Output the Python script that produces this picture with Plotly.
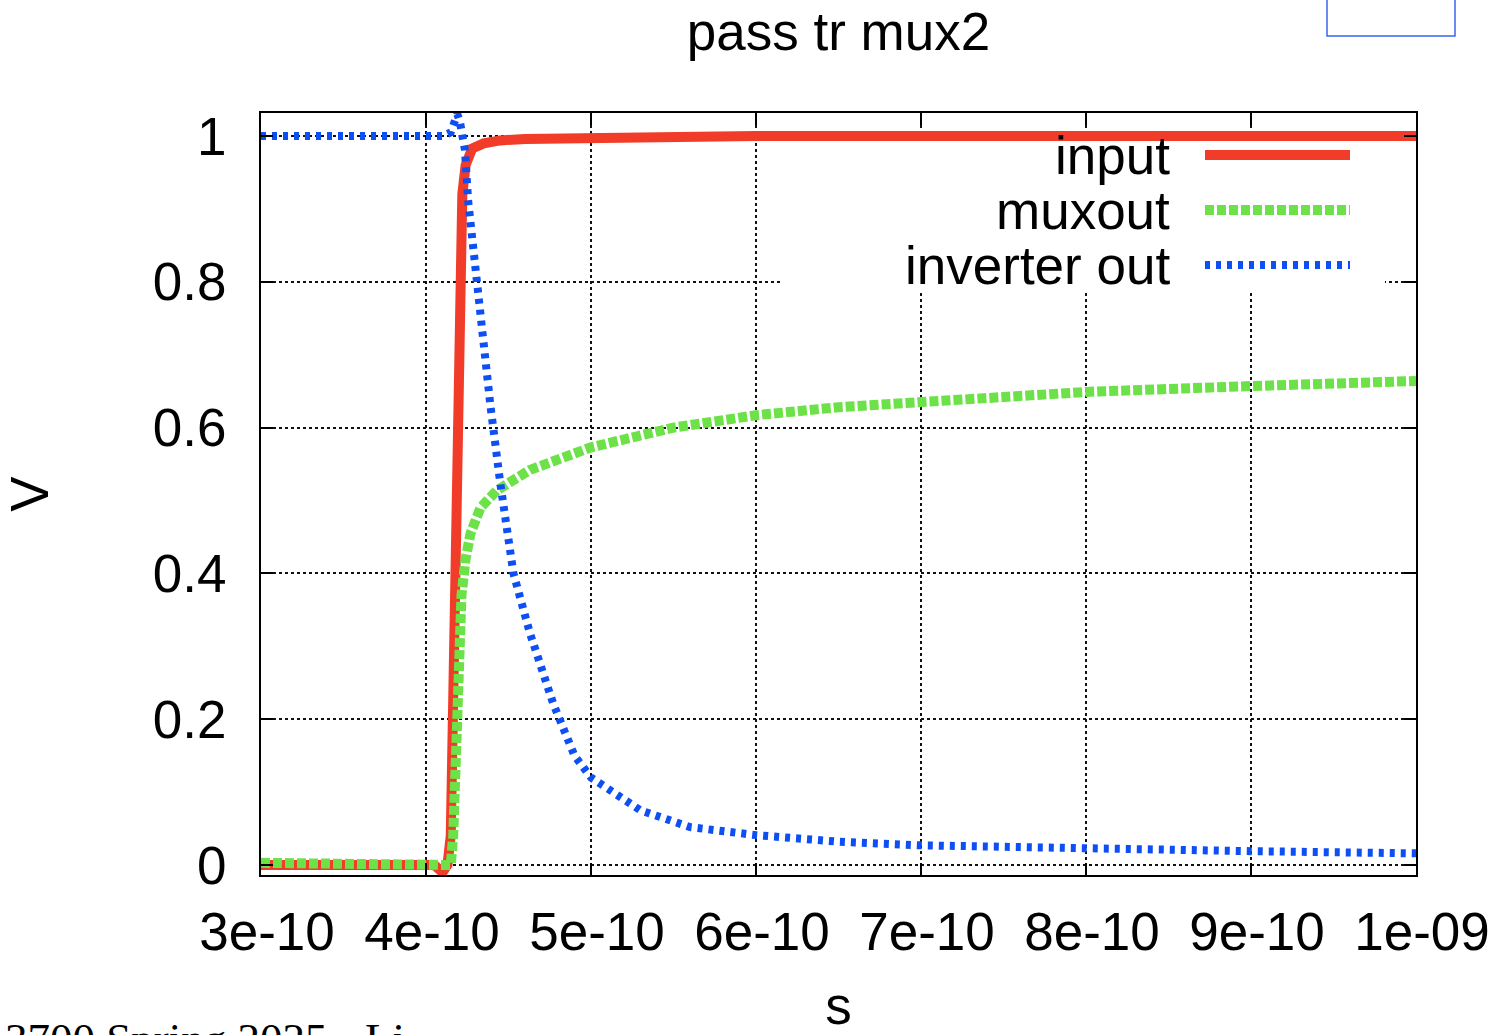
import numpy as np
import plotly.graph_objects as go

# ---- data (time in units of 1e-10 s, voltage in V) ----
t_input = [3.0, 4.05, 4.10, 4.13, 4.15, 4.17, 4.19, 4.205, 4.22, 4.24, 4.28, 4.35, 4.45, 4.6, 5.0, 6.0, 10.0]
v_input = [0.0, 0.0, -0.01, 0.0, 0.04, 0.3, 0.55, 0.75, 0.92, 0.96, 0.983, 0.99, 0.994, 0.996, 0.998, 1.0, 1.0]

t_muxout = [3.0, 4.10, 4.15, 4.165, 4.18, 4.19, 4.20, 4.215, 4.24, 4.27, 4.33, 4.43, 4.63, 4.93, 5.0, 5.5, 6.0, 6.5, 7.0, 8.0, 9.0, 10.0]
v_muxout = [0.003, 0.003, 0.0, 0.04, 0.12, 0.2, 0.28, 0.37, 0.42, 0.455, 0.49, 0.514, 0.542, 0.569, 0.573, 0.6, 0.617, 0.628, 0.636, 0.649, 0.657, 0.664]

t_invout = [3.0, 4.10, 4.15, 4.175, 4.19, 4.205, 4.22, 4.236, 4.255, 4.285, 4.315, 4.39, 4.45, 4.53, 4.63, 4.77, 4.9, 5.0, 5.3, 5.6, 6.0, 6.5, 7.0, 8.0, 9.0, 10.0]
v_invout = [1.0, 1.0, 1.005, 1.02, 1.03, 1.02, 1.0, 0.981, 0.912, 0.844, 0.779, 0.631, 0.524, 0.40, 0.318, 0.222, 0.15, 0.12, 0.075, 0.052, 0.041, 0.032, 0.027, 0.022, 0.019, 0.016]

x_tickvals = [3e-10, 4e-10, 5e-10, 6e-10, 7e-10, 8e-10, 9e-10, 1e-09]
x_ticktext = ["3e-10", "4e-10", "5e-10", "6e-10", "7e-10", "8e-10", "9e-10", "1e-09"]
y_tickvals = [0, 0.2, 0.4, 0.6, 0.8, 1.0]
y_ticktext = ["0", "0.2", "0.4", "0.6", "0.8", "1"]

series_names = ["input", "muxout", "inverter out"]
series_colors = ["#f23c2a", "#6ce248", "#0d4ff5"]
series_dash = ["solid", "9px,3px", "5px,6px"]
series_width = [10, 10, 8]

E10 = 1e-10
series = [(t_input, v_input), (t_muxout, v_muxout), (t_invout, v_invout)]

W, H = 1500, 1035
L, R, T, B = 261, 84, 113, 160
PW, PH = W - L - R, H - T - B


def px(xp):
    return (xp - L) / PW


def py(yp):
    return (H - B - yp) / PH


fig = go.Figure()
for (t, v), name, c, d, w in zip(series, series_names, series_colors, series_dash, series_width):
    fig.add_trace(go.Scatter(
        x=np.array(t) * E10, y=v, mode="lines", name=name,
        line=dict(color=c, dash=d, width=w), showlegend=False,
    ))

FONT = "Liberation Sans, Arial, Helvetica, sans-serif"

shapes = []
annotations = []
# white legend background (covers grid)
shapes.append(dict(type="rect", xref="paper", yref="paper",
                   x0=px(780), x1=px(1385), y0=py(292), y1=py(143),
                   fillcolor="white", line=dict(width=0), layer="above"))
legend_y = [155, 210, 265]
for name, c, d, w, yy in zip(series_names, series_colors, series_dash, series_width, legend_y):
    shapes.append(dict(type="line", xref="paper", yref="paper",
                       x0=px(1205), x1=px(1350), y0=py(yy), y1=py(yy),
                       line=dict(color=c, dash=d, width=w), layer="above"))
    annotations.append(dict(text=name, xref="paper", yref="paper",
                            x=px(1172), y=py(yy), xanchor="right", yanchor="middle",
                            showarrow=False, font=dict(size=53, color="black", family=FONT)))

# top-right stray frame
shapes.append(dict(type="rect", xref="paper", yref="paper",
                   x0=px(1327), x1=px(1455), y0=py(36), y1=py(-4),
                   line=dict(color="#3a66f0", width=1.5), fillcolor="rgba(0,0,0,0)"))

# bottom-left footer text (cut off by page edge)
annotations.append(dict(text="3700 Spring 2025 - Li", xref="paper", yref="paper",
                        x=px(3), y=py(1012), xanchor="left", yanchor="top", showarrow=False,
                        font=dict(size=45, color="black", family="Liberation Serif, Times New Roman, serif")))

axis_common = dict(
    showline=True, linecolor="black", linewidth=2, mirror="ticks",
    ticks="inside", ticklen=12, tickwidth=2, tickcolor="black",
    showgrid=True, gridcolor="#111111", gridwidth=1.5, griddash="3px,3px",
    zeroline=False, automargin=False,
    tickfont=dict(size=53, color="black", family=FONT),
)

fig.update_layout(
    width=W, height=H,
    margin=dict(l=L, r=R, t=T, b=B, autoexpand=False),
    paper_bgcolor="white", plot_bgcolor="white",
    font=dict(family=FONT, color="black"),
    title=dict(text="pass tr mux2", x=px(838.5), xref="paper", xanchor="center",
               y=1 - 31 / H, yref="container", yanchor="middle",
               font=dict(size=53, color="black", family=FONT)),
    xaxis=dict(range=[3e-10, 1e-09], tickvals=x_tickvals, ticktext=x_ticktext,
               ticklabelstandoff=9, ticklabelshift=6,
               title=dict(text="s", standoff=53, font=dict(size=53, color="black", family=FONT)),
               **axis_common),
    yaxis=dict(range=[-0.0137, 1.0316], tickvals=y_tickvals, ticktext=y_ticktext,
               ticklabelstandoff=22,
               title=dict(text="V", standoff=98, font=dict(size=53, color="black", family=FONT)),
               **axis_common),
    shapes=shapes, annotations=annotations,
)

fig.write_html("out.html", config={"displayModeBar": False},
               post_script="document.body.style.margin='0';document.body.style.overflow='hidden';")
